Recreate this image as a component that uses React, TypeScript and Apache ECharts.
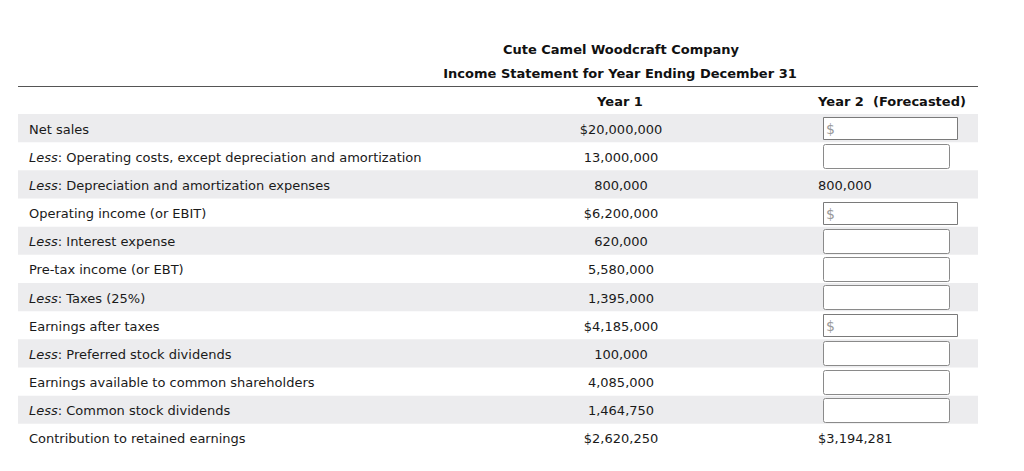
import React, { useEffect, useRef } from "react";
import * as echarts from "echarts";

const titleLines = ["Cute Camel Woodcraft Company", "Income Statement for Year Ending December 31"];
const columnHeaders = ["Year 1", "Year 2  (Forecasted)"];
const rowLabels = [
  "Net sales",
  "{i|Less}: Operating costs, except depreciation and amortization",
  "{i|Less}: Depreciation and amortization expenses",
  "Operating income (or EBIT)",
  "{i|Less}: Interest expense",
  "Pre-tax income (or EBT)",
  "{i|Less}: Taxes (25%)",
  "Earnings after taxes",
  "{i|Less}: Preferred stock dividends",
  "Earnings available to common shareholders",
  "{i|Less}: Common stock dividends",
  "Contribution to retained earnings",
];
const year1Values = [
  "$20,000,000", "13,000,000", "800,000", "$6,200,000", "620,000", "5,580,000",
  "1,395,000", "$4,185,000", "100,000", "4,085,000", "1,464,750", "$2,620,250",
];
// "$box" = input box with $ prefix, "box" = empty input, otherwise shown text
const year2Values = [
  "$box", "box", "800,000", "$box", "box", "box",
  "box", "$box", "box", "box", "box", "$3,194,281",
];

const FONT = "DejaVu Sans, Verdana, sans-serif";

export default function App() {
  const ref = useRef<HTMLDivElement>(null);
  useEffect(() => {
    if (!ref.current) return;
    const chart = echarts.init(ref.current, undefined, { renderer: "svg" });
    const data = rowLabels.map((_, i) => [0, i]);
    chart.setOption({
      animation: false,
      backgroundColor: "#ffffff",
      grid: { left: 18, right: 46, top: 114, bottom: 19 },
      xAxis: { type: "value", min: 0, max: 1, show: false },
      yAxis: {
        type: "category",
        data: rowLabels.map((_, i) => String(i)),
        inverse: true,
        show: false,
      },
      graphic: [
        {
          type: "text", x: 621, y: 49.5,
          style: { text: titleLines[0], font: `bold 13px ${FONT}`, fill: "#111", align: "center", verticalAlign: "middle" },
        },
        {
          type: "text", x: 620, y: 73.5,
          style: { text: titleLines[1], font: `bold 13px ${FONT}`, fill: "#111", align: "center", verticalAlign: "middle" },
        },
        {
          type: "line",
          shape: { x1: 18, y1: 86.5, x2: 978, y2: 86.5 },
          style: { stroke: "#555", lineWidth: 1 },
        },
        {
          type: "text", x: 620, y: 101.5,
          style: { text: columnHeaders[0], font: `bold 13px ${FONT}`, fill: "#111", align: "center", verticalAlign: "middle" },
        },
        {
          type: "text", x: 892, y: 101.5,
          style: { text: columnHeaders[1], font: `bold 13px ${FONT}`, fill: "#111", align: "center", verticalAlign: "middle" },
        },
      ],
      series: [
        {
          type: "custom",
          data,
          renderItem: (params: any, api: any) => {
            const i = api.value(1);
            const c = api.coord([0, i]);
            const h = api.size([0, 1])[1];
            const cs = params.coordSys;
            const yc = c[1];
            const ty = yc + 1;
            const top = yc - h / 2;
            const children: any[] = [];
            if (i % 2 === 0) {
              children.push({
                type: "rect",
                shape: { x: cs.x, y: top, width: cs.width, height: h },
                style: { fill: "#ececee" },
              });
            }
            children.push({
              type: "text",
              x: cs.x + 11, y: ty,
              style: {
                text: rowLabels[i],
                font: `13px ${FONT}`,
                fill: "#1a1a1a",
                verticalAlign: "middle",
                rich: { i: { fontStyle: "italic", fontFamily: FONT, fontSize: 13, fill: "#1a1a1a" } },
              },
            });
            children.push({
              type: "text",
              x: 621, y: ty,
              style: { text: year1Values[i], font: `13px ${FONT}`, fill: "#1a1a1a", align: "center", verticalAlign: "middle" },
            });
            const v = year2Values[i];
            if (v === "$box") {
              children.push({
                type: "rect",
                shape: { x: 823.5, y: Math.round(yc - 11) + 0.5, width: 134, height: 22 },
                style: { fill: "#fff", stroke: "#7a7a7a", lineWidth: 1 },
              });
              children.push({
                type: "text",
                x: 826, y: ty,
                style: { text: "$", font: `14px ${FONT}`, fill: "#999", verticalAlign: "middle" },
              });
            } else if (v === "box") {
              children.push({
                type: "rect",
                shape: { x: 823.5, y: Math.round(yc - 12) + 0.5, width: 126, height: 24, r: 2 },
                style: { fill: "#fff", stroke: "#8a8a8a", lineWidth: 1 },
              });
            } else {
              children.push({
                type: "text",
                x: 818, y: ty,
                style: { text: v, font: `13px ${FONT}`, fill: "#1a1a1a", verticalAlign: "middle" },
              });
            }
            return { type: "group", children };
          },
        },
      ],
    });
    return () => chart.dispose();
  }, []);
  return <div ref={ref} style={{ width: 1024, height: 471, position: "absolute", left: 0, top: 0 }} />;
}
